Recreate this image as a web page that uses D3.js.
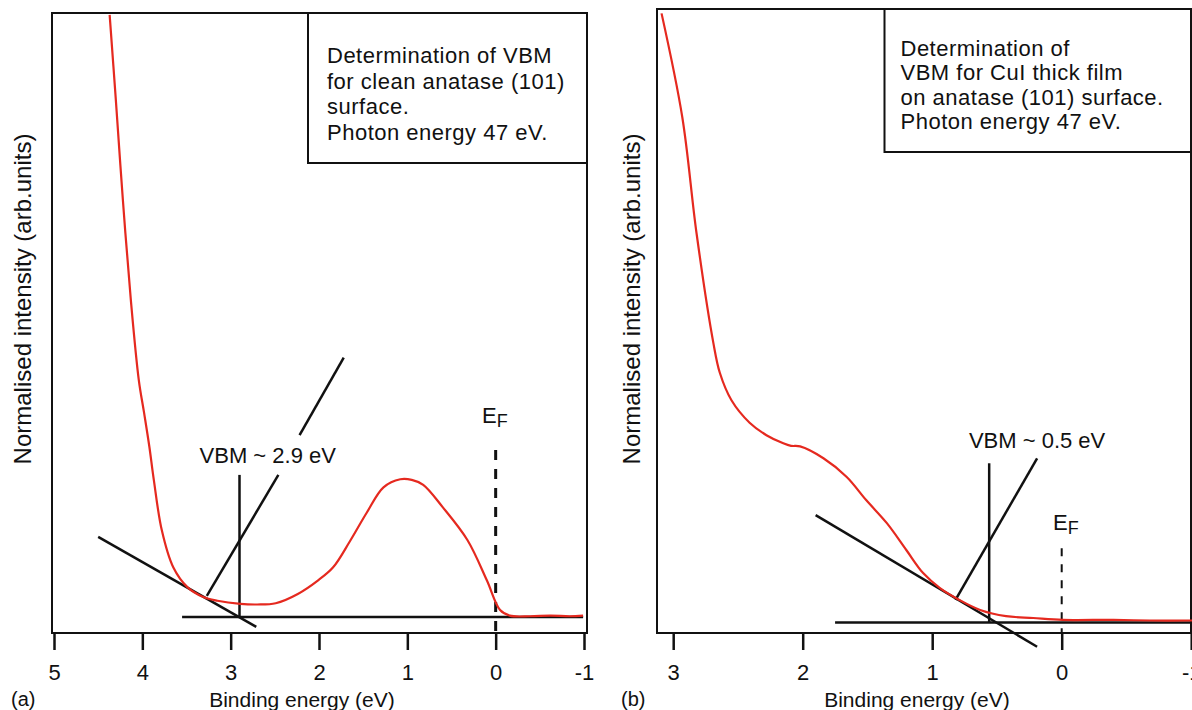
<!DOCTYPE html>
<html>
<head>
<meta charset="utf-8">
<script src="https://cdn.jsdelivr.net/npm/d3@7"></script>
<style>
body { margin: 0; background: #fff; }
svg text { font-family: 'Liberation Sans', Arial, Helvetica, sans-serif; fill: #111; }
</style>
</head>
<body>
<div id="chart"></div>
<script>
// ---- panel (a): clean anatase (101) ----
const energyA = [4.37, 4.30, 4.22, 4.13, 4.04, 3.98, 3.92, 3.87, 3.78, 3.65, 3.49, 3.31, 3.15, 2.89, 2.70, 2.49, 2.24, 2.01, 1.84, 1.65, 1.46, 1.27, 1.08, 0.95, 0.82, 0.60, 0.32, 0.10, -0.05, -0.16, -0.39, -0.62, -0.84, -0.99];
const intensityA = [0.997, 0.860, 0.698, 0.537, 0.408, 0.355, 0.300, 0.247, 0.166, 0.106, 0.074, 0.058, 0.052, 0.047, 0.046, 0.048, 0.063, 0.085, 0.106, 0.148, 0.194, 0.235, 0.248, 0.247, 0.239, 0.203, 0.150, 0.085, 0.037, 0.028, 0.027, 0.028, 0.027, 0.028];
const ticksA = [5, 4, 3, 2, 1, 0, -1];
const legendA = ['Determination of VBM', 'for clean anatase (101)', 'surface.', 'Photon energy 47 eV.'];
// fit lines, [energy, intensity] end points
const linesA = [
  [[3.55, 0.026], [-0.99, 0.026]],   // background
  [[4.50, 0.155], [2.71, 0.010]],    // tail tangent
  [[3.27, 0.060], [2.46, 0.255]],    // edge tangent (below label)
  [[2.22, 0.319], [1.72, 0.444]],    // edge tangent (above label)
  [[2.90, 0.026], [2.90, 0.255]]     // VBM marker
];
const vbmTextA = 'VBM ~ 2.9 eV';

// ---- panel (b): CuI thick film ----
const energyB = [3.09, 2.93, 2.82, 2.69, 2.64, 2.55, 2.41, 2.28, 2.15, 2.09, 2.02, 1.84, 1.66, 1.51, 1.35, 1.20, 1.07, 0.94, 0.79, 0.63, 0.43, 0.22, -0.01, -0.40, -0.68, -1.01];
const intensityB = [0.993, 0.827, 0.641, 0.465, 0.417, 0.373, 0.337, 0.317, 0.304, 0.300, 0.299, 0.280, 0.250, 0.213, 0.176, 0.133, 0.096, 0.072, 0.053, 0.037, 0.027, 0.024, 0.021, 0.021, 0.020, 0.020];
const ticksB = [3, 2, 1, 0, -1];
const legendB = ['Determination of', 'VBM for CuI thick film', 'on anatase (101) surface.', 'Photon energy 47 eV.'];
const linesB = [
  [[1.75, 0.017], [-1.05, 0.017]],
  [[1.90, 0.189], [0.19, -0.022]],
  [[0.82, 0.053], [0.19, 0.280]],
  [[0.56, 0.017], [0.56, 0.272]]
];
const vbmTextB = 'VBM ~ 0.5 eV';

const ink = '#111';
const red = '#e5291f';
const font = "'Liberation Sans', Arial, Helvetica, sans-serif";

const svg = d3.select('#chart').append('svg')
    .attr('width', 1192)
    .attr('height', 710);

const drawPanel = (p) => {
  const x = d3.scaleLinear().domain(p.xDomain).range(p.xRange);
  const y = d3.scaleLinear().domain([0, 1]).range([p.bottom, p.top]);
  const g = svg.append('g');

  g.append('rect')
    .attr('x', p.left).attr('y', p.top)
    .attr('width', p.right - p.left).attr('height', p.bottom - p.top)
    .attr('fill', 'none').attr('stroke', ink).attr('stroke-width', 2);

  g.append('g')
    .attr('transform', `translate(0,${p.bottom})`)
    .call(d3.axisBottom(x).tickValues(p.ticks).tickSize(17).tickPadding(14).tickFormat(d => String(d)))
    .call(a => a.select('.domain').remove())
    .call(a => a.selectAll('.tick line').attr('stroke', ink).attr('stroke-width', 2.5))
    .call(a => a.selectAll('.tick text')
        .attr('fill', ink)
        .style('font-size', '22px')
        .style('font-family', font));

  // axis titles
  g.append('text')
    .attr('x', p.xTitle).attr('y', 707)
    .attr('text-anchor', 'middle')
    .style('font-size', '21px')
    .text('Binding energy (eV)');

  g.append('text')
    .attr('x', p.panelX).attr('y', 706)
    .style('font-size', '20px')
    .text(p.tag);

  g.append('text')
    .attr('transform', `translate(${p.yTitle},${299}) rotate(-90)`)
    .attr('text-anchor', 'middle')
    .style('font-size', '24px')
    .text('Normalised intensity (arb.units)');

  // legend box
  g.append('rect')
    .attr('x', p.box[0]).attr('y', p.box[1])
    .attr('width', p.box[2]).attr('height', p.box[3])
    .attr('fill', '#fff').attr('stroke', ink).attr('stroke-width', 2);

  g.selectAll('.legend-line').data(p.legend).join('text')
    .attr('class', 'legend-line')
    .attr('x', p.box[0] + p.boxPad)
    .attr('y', (d, i) => p.firstLine + i * p.lineStep)
    .style('font-size', '22px')
    .style('letter-spacing', '0.5px')
    .text(d => d);

  // Fermi level
  g.append('line')
    .attr('x1', x(0)).attr('x2', x(0))
    .attr('y1', y(p.efTop)).attr('y2', p.bottom)
    .attr('stroke', ink)
    .attr('stroke-width', p.efWidth)
    .attr('stroke-dasharray', p.efDash);

  const ef = g.append('text')
    .attr('x', x(p.efLabel[0])).attr('y', y(p.efLabel[1]))
    .style('font-size', '22px');
  ef.append('tspan').text('E');
  ef.append('tspan').attr('dy', 4).style('font-size', '18px').text('F');

  // fit lines
  g.selectAll('.fit').data(p.lines).join('line')
    .attr('class', 'fit')
    .attr('x1', d => x(d[0][0])).attr('y1', d => y(d[0][1]))
    .attr('x2', d => x(d[1][0])).attr('y2', d => y(d[1][1]))
    .attr('stroke', ink)
    .attr('stroke-width', 2.5);

  g.append('text')
    .attr('x', x(p.vbmLabel[0])).attr('y', y(p.vbmLabel[1]))
    .attr('text-anchor', 'middle')
    .style('font-size', '22px')
    .text(p.vbmText);

  // spectrum
  const pts = p.energy.map((e, i) => [e, p.intensity[i]]);
  g.append('path')
    .datum(pts)
    .attr('fill', 'none')
    .attr('stroke', red)
    .attr('stroke-width', 2.2)
    .attr('d', d3.line().x(d => x(d[0])).y(d => y(d[1])).curve(d3.curveCatmullRom));
};

drawPanel({
  left: 52, right: 587, top: 13, bottom: 633,
  xDomain: [5, -1], xRange: [54, 584],
  ticks: ticksA, energy: energyA, intensity: intensityA,
  lines: linesA, legend: legendA,
  box: [308, 13, 279, 150], boxPad: 19, firstLine: 63, lineStep: 25.6,
  efTop: 0.295, efWidth: 3, efDash: '10,9', efLabel: [0.155, 0.338],
  vbmText: vbmTextA, vbmLabel: [2.58, 0.274],
  xTitle: 302, yTitle: 31, panelX: 11, tag: '(a)'
});

drawPanel({
  left: 657, right: 1191, top: 9, bottom: 633,
  xDomain: [3, -1], xRange: [673.2, 1191.2],
  ticks: ticksB, energy: energyB, intensity: intensityB,
  lines: linesB, legend: legendB,
  box: [884.5, 9, 306.5, 143], boxPad: 16, firstLine: 55.5, lineStep: 24.5,
  efTop: 0.136, efWidth: 2, efDash: '8,8', efLabel: [0.067, 0.165],
  vbmText: vbmTextB, vbmLabel: [0.19, 0.296],
  xTitle: 917, yTitle: 640, panelX: 621, tag: '(b)'
});
</script>
</body>
</html>
